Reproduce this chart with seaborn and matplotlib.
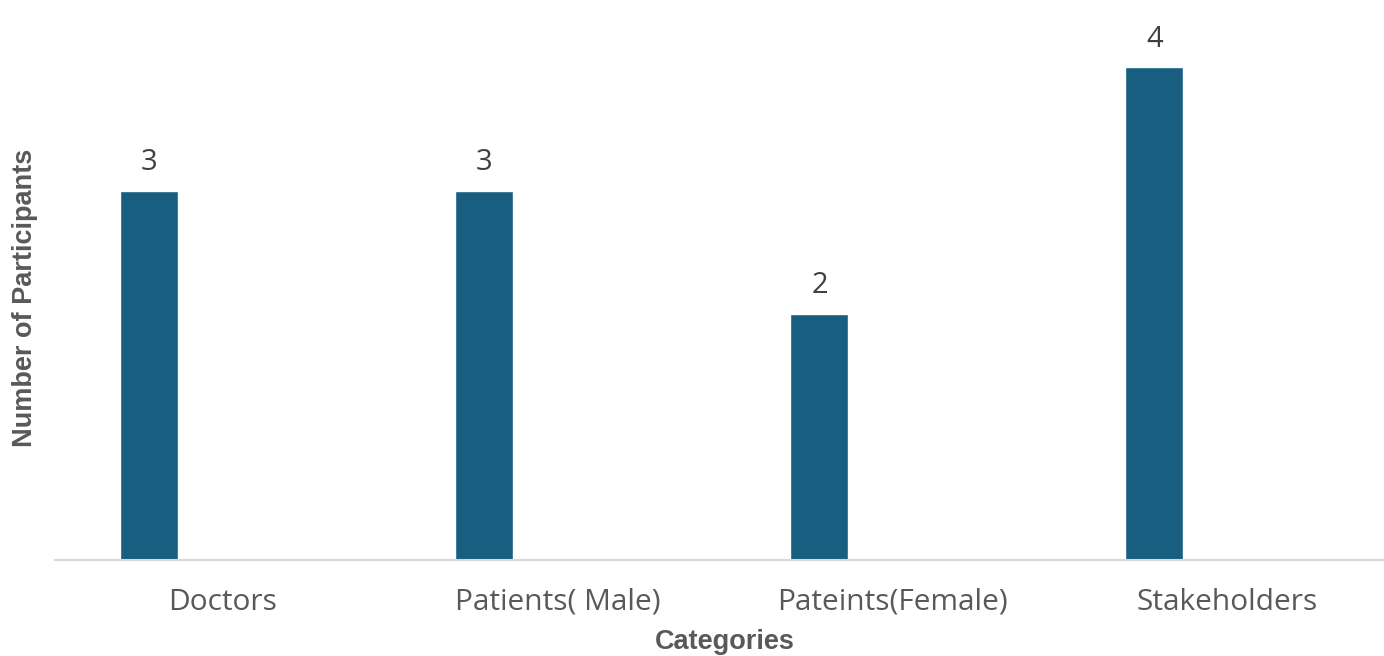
import pandas as pd
import seaborn as sns
import matplotlib.pyplot as plt

# data
categories = ['Doctors', 'Patients( Male)', 'Pateints(Female)', 'Stakeholders']
participants = [3, 3, 2, 4]

df = pd.DataFrame({'category': categories, 'participants': participants})

sns.set_style('white')
plt.rcParams['font.family'] = ['Liberation Sans', 'DejaVu Sans']

fig = plt.figure(figsize=(13.84, 6.56), dpi=100)
ax = fig.add_axes([55 / 1384, 96 / 656, 1340 / 1384, 548 / 656])

bar_color = '#175e80'
sns.barplot(data=df, x='category', y='participants', color=bar_color,
            width=0.173, saturation=1, ax=ax)

# bars sit left of the category centre (empty second series in the original)
offset = 0.218
for p in ax.patches:
    p.set_x(p.get_x() - offset)

for p, v in zip(ax.patches, participants):
    ax.text(p.get_x() + p.get_width() / 2, v + 0.11, str(v),
            ha='center', va='bottom', fontsize=21, color='#404040',
            family=['Open Sans', 'DejaVu Sans'])

ax.set_xlim(-0.5, 3.5)
ax.set_ylim(0, 4.45)
ax.set_yticks([])
sns.despine(ax=ax, left=True)
ax.spines['bottom'].set_color('#d9d9d9')
ax.spines['bottom'].set_linewidth(1.5)
ax.tick_params(axis='x', length=0, labelsize=21.5, labelcolor='#595959', pad=20)
for lab in ax.get_xticklabels():
    lab.set_family(['Open Sans', 'DejaVu Sans'])

ax.set_xlabel('Categories', fontsize=19.5, fontweight='bold', color='#595959', labelpad=9)
ax.set_ylabel('Number of Participants', fontsize=19.5, fontweight='bold', color='#595959')
ax.yaxis.set_label_coords(-17 / 1340, 0.478)

fig.savefig('out.png', dpi=100)
